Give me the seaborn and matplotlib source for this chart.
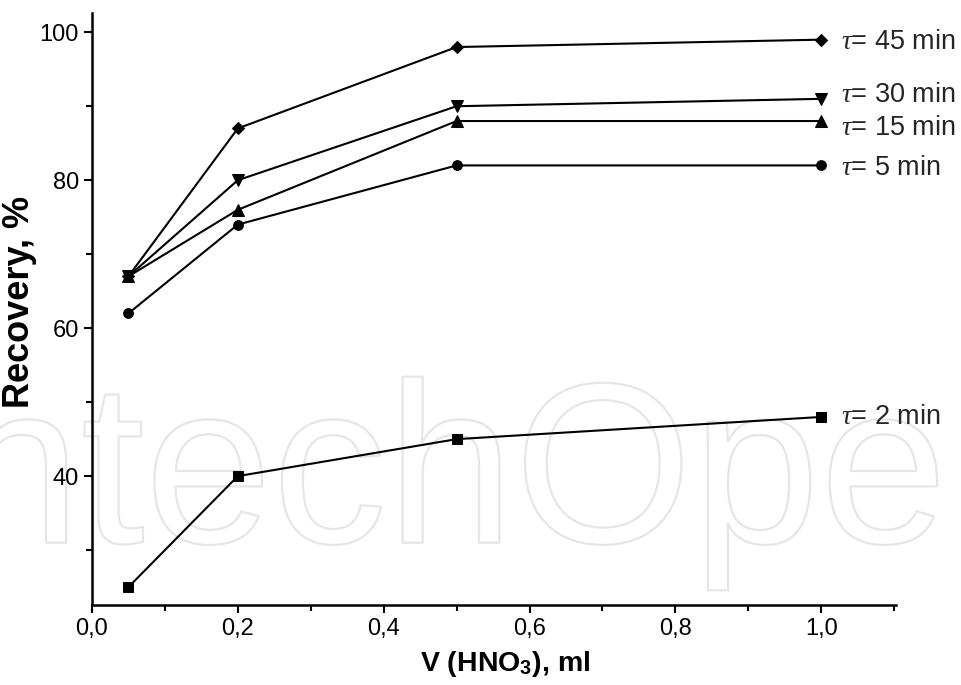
import pandas as pd
import seaborn as sns
import matplotlib.pyplot as plt
import matplotlib.patheffects as pe
from matplotlib.ticker import MultipleLocator, FuncFormatter

volume = [0.05, 0.2, 0.5, 1.0]
rec_2 = [25, 40, 45, 48]
rec_5 = [62, 74, 82, 82]
rec_15 = [67, 76, 88, 88]
rec_30 = [67, 80, 90, 91]
rec_45 = [67, 87, 98, 99]
labels = ['2', '5', '15', '30', '45']

series = {'2': rec_2, '5': rec_5, '15': rec_15, '30': rec_30, '45': rec_45}
markers = {'2': 's', '5': 'o', '15': '^', '30': 'v', '45': 'D'}
msize = {'2': 7, '5': 7, '15': 8, '30': 8, '45': 6}
# small vertical nudges (points) so the labels don't collide
nudge = {'2': 0, '5': -2, '15': -5, '30': 3, '45': -2}

sns.set_style('ticks')
plt.rcParams['font.family'] = ['Liberation Sans', 'DejaVu Sans']
plt.rcParams['mathtext.fontset'] = 'custom'
plt.rcParams['mathtext.rm'] = 'Liberation Sans'
plt.rcParams['mathtext.it'] = 'Liberation Serif:italic'
plt.rcParams['mathtext.bf'] = 'Liberation Sans:bold'

fig = plt.figure(figsize=(9.61, 6.85), dpi=100)
ax = fig.add_axes([0.0957, 0.117, 0.837, 0.864])

# faint outlined watermark behind everything
ax.text(0.485, 0.105, 'IntechOpen', transform=ax.transAxes, ha='center', va='baseline',
        fontsize=165, color='none', zorder=0.5, clip_on=False,
        path_effects=[pe.Stroke(linewidth=1.6, foreground='#e6e6e6')])

for k in labels:
    df = pd.DataFrame({'V': volume, 'R': series[k]})
    sns.lineplot(data=df, x='V', y='R', ax=ax, color='black', lw=1.5,
                 marker=markers[k], markersize=msize[k], markeredgecolor='black',
                 clip_on=False)
    ax.annotate(r'$\tau$' + '= ' + k + ' min', xy=(1.027, series[k][-1]),
                xytext=(0, nudge[k]), textcoords='offset points', fontsize=19.5,
                va='center', ha='left', annotation_clip=False)

ax.set_xlim(0, 1.103)
ax.set_ylim(22.6, 102.6)
ax.xaxis.set_major_locator(MultipleLocator(0.2))
ax.xaxis.set_minor_locator(MultipleLocator(0.1))
ax.yaxis.set_major_locator(MultipleLocator(20))
ax.yaxis.set_minor_locator(MultipleLocator(10))
ax.xaxis.set_major_formatter(FuncFormatter(lambda v, p: f'{v:.1f}'.replace('.', ',')))
ax.tick_params(which='major', length=6, width=1.5, labelsize=17, direction='out',
               colors='black')
ax.tick_params(which='minor', length=4, width=1.5, direction='out', colors='black')

for s in ['top', 'right']:
    ax.spines[s].set_visible(False)
for s in ['left', 'bottom']:
    ax.spines[s].set_linewidth(1.8)
    ax.spines[s].set_color('black')

ax.set_xlabel(r'V (HNO$_\mathbf{3}$), ml', fontsize=20.5, fontweight='bold', color='black')
ax.set_ylabel('Recovery, %', fontsize=26, fontweight='bold', color='black')
ax.xaxis.set_label_coords(0.514, -0.075)
ax.yaxis.set_label_coords(-0.068, 0.512)

fig.savefig('out.png', dpi=100)
